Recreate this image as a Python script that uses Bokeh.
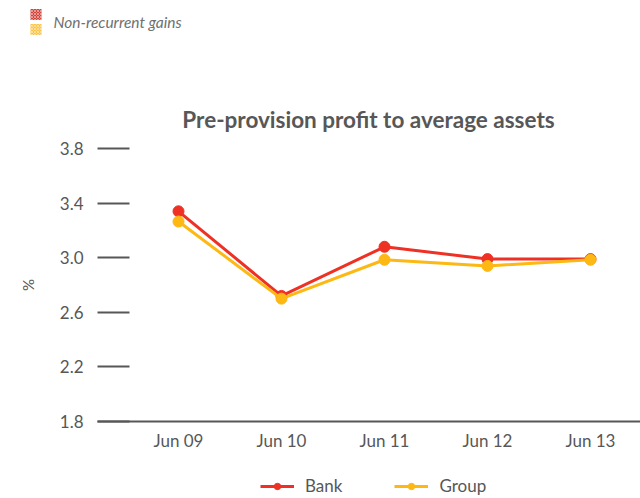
from bokeh.plotting import figure
from bokeh.models import Range1d, FixedTicker, Legend, Label
from bokeh.core.properties import value
from bokeh.embed import file_html
from bokeh.resources import INLINE

# ---- data ----
periods = ["Jun 09", "Jun 10", "Jun 11", "Jun 12", "Jun 13"]
bank = [3.34, 2.72, 3.08, 2.99, 2.99]
group = [3.265, 2.70, 2.985, 2.94, 2.985]
y_ticks = [1.8, 2.2, 2.6, 3.0, 3.4, 3.8]
y_tick_labels = ["1.8", "2.2", "2.6", "3.0", "3.4", "3.8"]
top_legend_label = "Non-recurrent gains"
top_legend_colors = ["#d4423a", "#fcc447"]
title_text = "Pre-provision profit to average assets"
y_label = "%"

RED = "#ee3124"
YELLOW = "#fdb813"
GREY = "#575757"
FONT = "Lato"

W, H = 640, 498
# layout geometry (pixels): first category centre, category step, y-axis pixel scale
X0_PX, STEP_PX = 178.0, 103.0
YTOP_PX, YBOT_PX = 148.0, 421.0
Y_LO, Y_HI = y_ticks[0], y_ticks[-1]
PX_PER_UNIT = (YBOT_PX - YTOP_PX) / (Y_HI - Y_LO)


def dx(px):
    return (px - X0_PX) / STEP_PX


def dy(py):
    return Y_HI - (py - YTOP_PX) / PX_PER_UNIT


xs = list(range(len(periods)))
p = figure(width=W, height=H, x_range=Range1d(dx(0), dx(W)), y_range=Range1d(dy(H), dy(0)),
           output_backend="svg", toolbar_location=None, min_border=0)
p.grid.visible = False
p.outline_line_color = None

# y axis, drawn at the frame position of the reference
ya = p.yaxis[0]
ya.fixed_location = dx(97)
ya.bounds = (Y_LO, Y_HI)
ya.ticker = FixedTicker(ticks=y_ticks)
ya.major_label_overrides = {t: l for t, l in zip(y_ticks, y_tick_labels)}
ya.major_tick_in = 32
ya.major_tick_out = 0
ya.major_tick_line_width = 2
ya.major_tick_line_color = GREY
ya.minor_tick_line_color = None
ya.axis_line_color = None
ya.major_label_standoff = 14
ya.major_label_text_font = FONT
ya.major_label_text_font_size = "17px"
ya.major_label_text_color = GREY
ya.axis_label = y_label
ya.axis_label_text_font = FONT
ya.axis_label_text_font_style = "normal"
ya.axis_label_text_font_size = "15px"
ya.axis_label_text_color = GREY
ya.axis_label_standoff = 20

xa = p.xaxis[0]
xa.fixed_location = Y_LO
xa.bounds = (dx(97), dx(W))
xa.ticker = FixedTicker(ticks=xs)
xa.major_label_overrides = {i: lab for i, lab in zip(xs, periods)}
xa.major_tick_line_color = None
xa.minor_tick_line_color = None
xa.axis_line_width = 2
xa.axis_line_color = GREY
xa.major_label_standoff = 2
xa.major_label_text_font = FONT
xa.major_label_text_font_size = "17px"
xa.major_label_text_color = GREY

l1 = p.line(xs, bank, line_color=RED, line_width=3)
s1 = p.scatter(xs, bank, size=11, fill_color=RED, line_color=RED)
l2 = p.line(xs, group, line_color=YELLOW, line_width=3)
s2 = p.scatter(xs, group, size=11, fill_color=YELLOW, line_color=YELLOW)

# title
p.add_layout(Label(x=dx(368), y=dy(119), text=title_text, text_font=FONT,
                   text_font_style="bold", text_font_size="22.5px", text_color=GREY,
                   text_align="center", text_baseline="middle"))

# bottom legend
legend = Legend(items=[("Bank", [l1, s1]), ("Group", [l2, s2])], orientation="horizontal",
                location=(260, 2), border_line_color=None, background_fill_alpha=0,
                label_text_font=FONT, label_text_font_size="17px", label_text_color=GREY,
                glyph_width=34, glyph_height=16, label_height=18, label_standoff=11,
                spacing=52, padding=0, margin=0)
p.add_layout(legend, "center")

# top-left swatch legend
sw_x = [dx(35.5)] * len(top_legend_colors)
sw_y = [dy(14), dy(29)]
p.rect(x=sw_x, y=sw_y, width=11, height=11, width_units="screen", height_units="screen",
       fill_color=top_legend_colors, line_color=None, hatch_pattern="x",
       hatch_color="white", hatch_alpha=0.45, hatch_scale=3, hatch_weight=1)
p.text(x=[dx(53)], y=[dy(21)], text=[top_legend_label], text_font=value(FONT),
       text_font_style="italic", text_font_size="15.5px", text_color="#707070",
       text_align="left", text_baseline="middle")

open("out.html", "w").write(file_html(p, INLINE))
